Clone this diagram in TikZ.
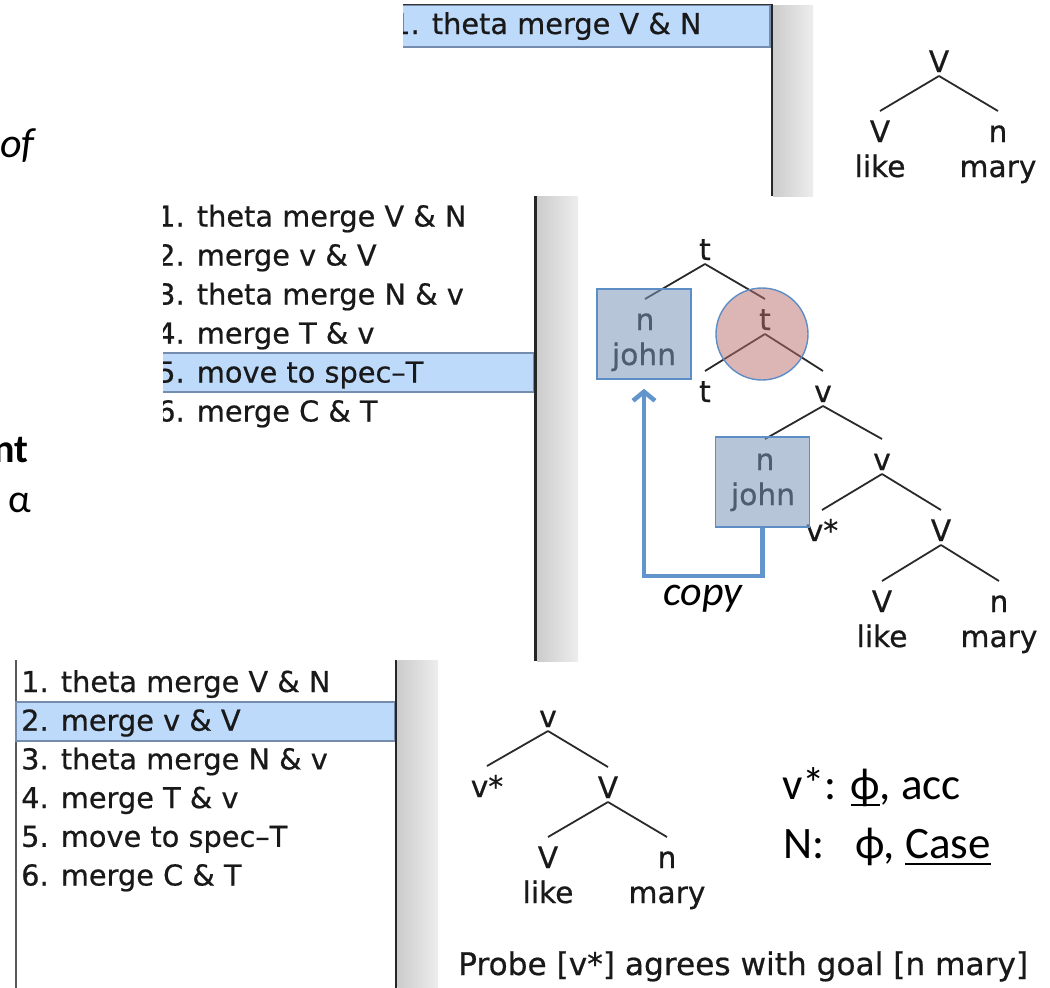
\documentclass[tikz,border=0pt]{standalone}
\usepackage{fontspec}
\setmainfont{Carlito}
\newfontfamily\uifont{DejaVu Sans}[FakeBold=0.6]
\usetikzlibrary{arrows.meta}
\newcommand\ulbar[1]{\sbox0{#1}\rlap{\rule[-7pt]{\wd0}{2.4pt}}\usebox0}
\definecolor{selfill}{RGB}{189,218,250}
\definecolor{selline}{RGB}{118,140,172}
\definecolor{boxfill}{RGB}{124,150,184}
\definecolor{boxline}{RGB}{93,141,198}
\definecolor{ringfill}{RGB}{185,110,108}
\definecolor{copyblue}{RGB}{98,149,204}
\definecolor{treeline}{RGB}{42,42,42}
\tikzset{
  row/.style={font=\uifont\fontsize{28.8}{34}\selectfont, inner sep=0pt, anchor=base west, text=black!90},
  lab/.style={font=\uifont\fontsize{29.7}{36}\selectfont, inner sep=0pt, anchor=base, text=black!90},
  edge/.style={draw=treeline, line width=1.8pt},
  selbar/.style={fill=selfill, draw=selline, line width=1.6pt},
  sbline/.style={draw=black!85, line width=2.4pt},
  sbtrack/.style={left color=black!20, middle color=white, right color=black!7, draw=none},
  slide/.style={font=\fontsize{45}{54}\selectfont, inner sep=0pt, anchor=base west},
  slideit/.style={font=\itshape\fontsize{42}{50}\selectfont, inner sep=0pt, anchor=base west},
  copybox/.style={rectangle, inner sep=0pt, minimum width=94pt, minimum height=90pt,
    fill=boxfill, fill opacity=.55, draw=boxline, draw opacity=1, line width=1.6pt},
  ring/.style={circle, inner sep=0pt, minimum size=92pt,
    fill=ringfill, fill opacity=.5, draw=boxline, draw opacity=1, line width=1.4pt},
  copyarrow/.style={draw=copyblue, line width=4.5pt, -{Straight Barb[length=9pt,width=22pt]}, shorten >=9pt},
}
\begin{document}
\begin{tikzpicture}[x=1pt,y=-1pt]
\useasboundingbox (0,0) rectangle (1050,988);

% fragments of slide text at the left edge
\node[slideit] (sof) at (0,157) {of};
\node[slide, font=\bfseries\fontsize{40}{48}\selectfont] (snt) at (-7,462) {nt};
\node[slide, font=\fontsize{40}{48}\selectfont] (salpha) at (8,512) {α};

% ---------- window 1: step 1 ----------
\begin{scope}
  \clip (403,0) rectangle (772,196);
  \path[selbar] (390,5) rectangle (770,47);
  \node[row] (w1r1) at (392,34) {1. theta merge V \& N};
\end{scope}
\draw[black!80, line width=1.5pt] (403,4.5) -- (772,4.5);
\path[sbtrack] (773,5) rectangle (813,196);
\draw[sbline] (772,4) -- (772,196);

\node[lab] (a0) at (939,72) {V};
\node[lab] (a1) at (880,142) {V};
\node[lab] (a1w) at (880,177) {like};
\node[lab] (a2) at (998,142) {n};
\node[lab] (a2w) at (998,177) {mary};
\draw[edge] ([yshift=-4pt]a0.base) -- ([yshift=31pt]a1.base);
\draw[edge] ([yshift=-4pt]a0.base) -- ([yshift=31pt]a2.base);

% ---------- window 2: step 5 ----------
\begin{scope}
  \clip (163,196) rectangle (536,661);
  \path[selbar] (150,353) rectangle (533.5,392);
  \node[row] (w2r1) at (157,226.5) {1. theta merge V \& N};
  \node[row] (w2r2) at (157,265.5) {2. merge v \& V};
  \node[row] (w2r3) at (157,304.5) {3. theta merge N \& v};
  \node[row] (w2r4) at (157,343.5) {4. merge T \& v};
  \node[row] (w2r5) at (157,382.5) {5. move to spec–T};
  \node[row] (w2r6) at (157,421.5) {6. merge C \& T};
\end{scope}
\path[sbtrack] (537,196) rectangle (578,661);
\draw[sbline] (535.5,196) -- (535.5,661);

\node[lab] (q0) at (705,260) {t};
\node[lab] (j1) at (645,330) {n};
\node[lab] (j1w) at (644,365) {john};
\node[lab] (q1) at (765,330) {t};
\node[lab] (q2) at (705,402) {t};
\node[lab] (q3) at (823,402) {v};
\node[lab] (j2) at (765,470) {n};
\node[lab] (j2w) at (763,505) {john};
\node[lab] (q4) at (882,470) {v};
\node[lab] (q5) at (822,541) {v*};
\node[lab] (q6) at (941,541) {V};
\node[lab] (q7) at (882,612) {V};
\node[lab] (q7w) at (882,647) {like};
\node[lab] (q8) at (999,612) {n};
\node[lab] (q8w) at (999,647) {mary};
\foreach \p/\c in {q0/j1, q0/q1, q1/q2, q1/q3, q3/j2, q3/q4, q4/q5, q4/q6, q6/q7, q6/q8}
  \draw[edge] ([yshift=-4pt]\p.base) -- ([yshift=31pt]\c.base);

\node[copybox] (box1) at (644,334) {};
\node[copybox] (box2) at (762.5,482) {};
\node[ring] (ring) at (762,334) {};
\draw[copyarrow] (box2.south) -- ([yshift=-48pt]box2.south) -| (box1.south);
\node[slideit, anchor=base] (copylab) at (703,605) {copy};

% ---------- window 3: step 2 ----------
\draw[black!65, line width=1.5pt] (16,660) -- (16,988);
\path[selbar] (16,702) rectangle (394.5,741);
\node[row] (w3r1) at (21,692) {1. theta merge V \& N};
\node[row] (w3r2) at (21,730.7) {2. merge v \& V};
\node[row] (w3r3) at (21,769.4) {3. theta merge N \& v};
\node[row] (w3r4) at (21,808.1) {4. merge T \& v};
\node[row] (w3r5) at (21,846.8) {5. move to spec–T};
\node[row] (w3r6) at (21,885.5) {6. merge C \& T};
\path[sbtrack] (397.5,660) rectangle (438,988);
\draw[sbline] (396,660) -- (396,988);

\node[lab] (p0) at (548,727) {v};
\node[lab] (p1) at (487,797) {v*};
\node[lab] (p2) at (608,798) {V};
\node[lab] (p3) at (548,868) {V};
\node[lab] (p3w) at (548,903) {like};
\node[lab] (p4) at (667,868) {n};
\node[lab] (p4w) at (667,903) {mary};
\foreach \p/\c in {p0/p1, p0/p2, p2/p3, p2/p4}
  \draw[edge] ([yshift=-4pt]\p.base) -- ([yshift=31pt]\c.base);

\node[row, font=\uifont\fontsize{31.2}{36}\selectfont] (probe) at (458,975) {Probe [v*] agrees with goal [n mary]};

\node[slide] (feat1) at (782,799) {v*: \ulbar{ϕ}, acc};
\node[slide] (feat2) at (783,858) {N:\hspace{31pt}ϕ, \ulbar{Case}};
\end{tikzpicture}
\end{document}
